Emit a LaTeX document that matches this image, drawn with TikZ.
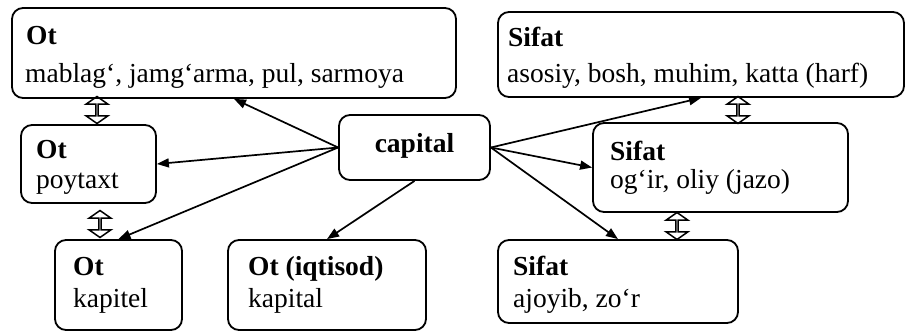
\documentclass[tikz,border=0pt]{standalone}
\usepackage{fontspec}
\setmainfont{Liberation Serif}
\usetikzlibrary{arrows.meta,shapes.arrows}
\begin{document}
\begin{tikzpicture}[x=1pt,y=-1pt,
  box/.style={draw,line width=1.8pt,rounded corners=11pt,inner sep=0pt},
  txt/.style={anchor=base west,inner sep=0pt,font=\fontsize{27.5}{31}\selectfont},
  head/.style={txt,font=\fontsize{27.5}{31}\selectfont\bfseries},
  link/.style={line width=1.7pt,-{Triangle[length=12pt,width=9pt]}},
  updown/.style={draw,line width=1.5pt,double arrow,rotate=90,inner sep=0pt,
    minimum height=27pt,minimum width=22pt,double arrow head extend=6pt,
    double arrow tip angle=110}]
\useasboundingbox (0,0) rectangle (906,333);
% boxes
\node[box,minimum width=444pt,minimum height=90pt] (b1) at (234,53) {};
\node[box,minimum width=135pt,minimum height=78pt] (b2) at (88.5,164) {};
\node[box,minimum width=127pt,minimum height=90pt] (b3) at (118.5,285) {};
\node[box,minimum width=198pt,minimum height=90pt] (b4) at (327,285) {};
\node[box,minimum width=151pt,minimum height=65pt] (cap) at (414.5,147.5) {};
\node[box,minimum width=406pt,minimum height=85pt] (s1) at (701,54.5) {};
\node[box,minimum width=255pt,minimum height=89pt] (s2) at (720.5,167.5) {};
\node[box,minimum width=240pt,minimum height=83pt] (s3) at (618,281.5) {};
% texts
\node[head] (b1h) at (26,44) {Ot};
\node[txt]  (b1t) at (25,82) {mablag‘, jamg‘arma, pul, sarmoya};
\node[head] (b2h) at (36,158) {Ot};
\node[txt]  (b2t) at (36,188) {poytaxt};
\node[head] (b3h) at (73,275) {Ot};
\node[txt]  (b3t) at (73,307) {kapitel};
\node[head] (b4h) at (248,275) {Ot (iqtisod)};
\node[txt]  (b4t) at (248,307) {kapital};
\node[head,anchor=base] (caph) at (414.5,152) {capital};
\node[head] (s1h) at (508,46) {Sifat};
\node[txt]  (s1t) at (507,82) {asosiy, bosh, muhim, katta (harf)};
\node[head] (s2h) at (610,160) {Sifat};
\node[txt]  (s2t) at (610,188) {og‘ir, oliy (jazo)};
\node[head] (s3h) at (513,275) {Sifat};
\node[txt]  (s3t) at (513,307) {ajoyib, zo‘r};
% arrows from the central word
\draw[link] (cap.west) -- (b1.south);
\draw[link] (cap.west) -- (b2.east);
\draw[link] (cap.west) -- (b3.north);
\draw[link] (cap.south) -- (b4.north);
\draw[link] (cap.east) -- (s1.south);
\draw[link] (cap.east) -- (s2.west);
\draw[link] (cap.east) -- (s3.north);
% hollow up-down arrows between related senses
\node[updown] (u1) at (97,110) {};
\node[updown] (u2) at (100,224) {};
\node[updown] (u3) at (738,110) {};
\node[updown] (u4) at (677,226) {};
\end{tikzpicture}
\end{document}
